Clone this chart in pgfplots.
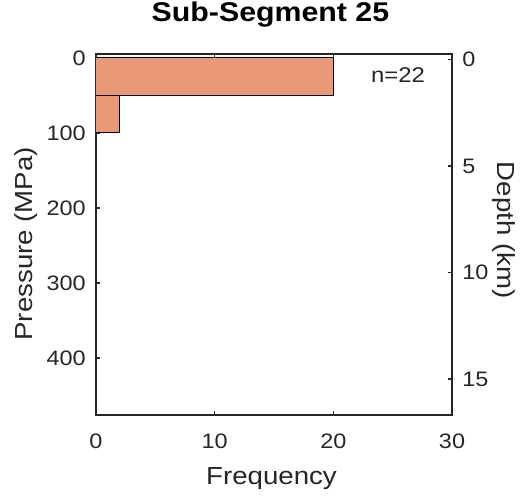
\documentclass[border=0pt]{standalone}
\usepackage{pgfplots}
\pgfplotsset{compat=1.18}
\usepackage{fontspec}
\setmainfont{Liberation Sans}[FakeStretch=1.12]
\definecolor{barc}{RGB}{233,152,120}
\definecolor{axc}{RGB}{38,38,38}
\begin{document}
\begin{tikzpicture}
\pgfplotsset{every axis/.append style={
  scale only axis, width=267pt, height=270.75pt,
  /pgf/number format/assume math mode=true,
  tick label style={font=\fontsize{15.7}{18}\selectfont, text=axc},
  label style={font=\fontsize{18.5}{22}\selectfont, text=axc},
  axis line style={line width=1.1pt, axc},
  major tick length=3pt,
  tick style={axc, line width=0.8pt},
}}
\begin{axis}[
  xmin=0, xmax=30, ymin=-5.3, ymax=476,
  y dir=reverse,
  xtick={0,10,20,30}, ytick={0,100,200,300,400},
  ytick pos=left,
  xticklabel style={anchor=base, inner sep=0pt, yshift=-24.75pt},
  yticklabel style={anchor=east, inner sep=0pt, xshift=-7.5pt},
  xlabel={Frequency}, ylabel={Pressure (MPa)},
  xlabel style={at={(axis description cs:0.493,0)}, anchor=base, inner sep=0pt, yshift=-51.75pt},
  ylabel style={at={(axis description cs:-0.177,0.474)}, anchor=base, inner sep=0pt},
  title={Sub-Segment 25},
  title style={font=\fontsize{20.3}{24}\selectfont\bfseries, at={(axis description cs:0.49,1)}, anchor=base, inner sep=0pt, yshift=18pt},
]
\addplot[xbar interval, fill=barc, draw=black, line width=0.75pt] coordinates {(20,0) (2,50) (2,100)};
\node[anchor=center, font=\fontsize{16}{18}\selectfont, text=axc] at (axis cs:25.45,23) {n=22};
\end{axis}
\begin{axis}[
  xmin=0, xmax=30, ymin=-0.26, ymax=16.69,
  y dir=reverse,
  axis x line*=top,
  axis y line*=right,
  xtick={0,10,20,30}, xticklabel=\empty,
  x axis line style={-},
  y axis line style={-},
  ytick={0,5,10,15},
  yticklabel style={anchor=west, inner sep=0pt, xshift=7.5pt},
  ylabel={Depth (km)},
  ylabel style={at={(axis description cs:1.129,0.512)}, anchor=base, inner sep=0pt, rotate=180},
]
\end{axis}
\pgfresetboundingbox
\path[use as bounding box] (-72pt,-60.75pt) rectangle (320.25pt,311.25pt);
\end{tikzpicture}
\end{document}
